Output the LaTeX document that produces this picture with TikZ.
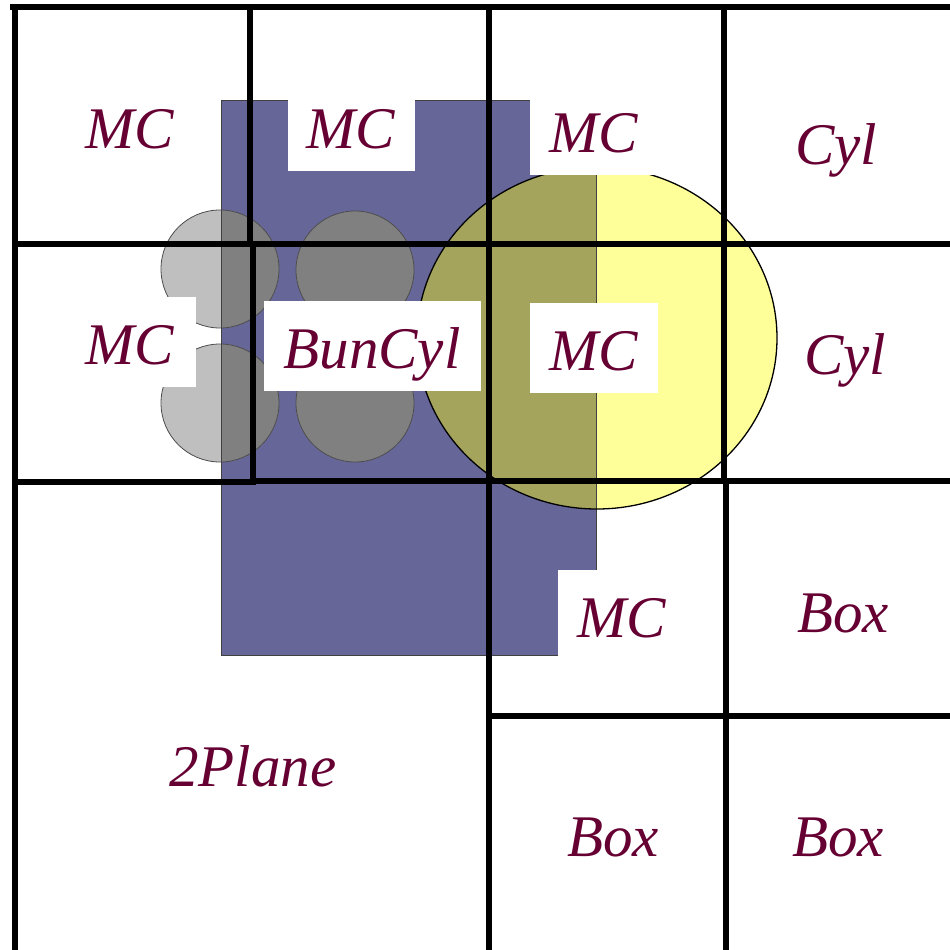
\documentclass[tikz,border=0pt]{standalone}
\usepackage{fontspec}
\setmainfont{Liberation Serif}
\definecolor{maroon}{HTML}{660033}
\definecolor{slate}{HTML}{666699}
\definecolor{pale}{HTML}{FFFF99}
\definecolor{olivy}{HTML}{A4A45C}

\begin{document}
\begin{tikzpicture}[
  x=1pt, y=-1pt,
  lbl/.style={font=\fontsize{59}{59}\selectfont\itshape, text=maroon, anchor=base, inner sep=0pt},
  tag/.style={lbl, fill=white, text height=67pt, text depth=23pt, minimum width=128pt},
  wall/.style={line width=5.6pt, line cap=rect}
]
\useasboundingbox (0,0) rectangle (950,950);

% bundle region and rods
\fill[slate] (221,100) rectangle (596,655);
\foreach \cx/\cy in {220/269, 220/403, 355/270, 355/403}
  \fill[black!25] (\cx,\cy) circle (59);
\begin{scope}
  \clip (221,100) rectangle (596,655);
  \foreach \cx/\cy in {220/269, 220/403, 355/270, 355/403}
    \fill[black!50] (\cx,\cy) circle (59);
\end{scope}
\foreach \cx/\cy in {220/269, 220/403, 355/270, 355/403}
  \draw[black!70, line width=0.8pt] (\cx,\cy) circle (59);

% cylinder
\fill[pale] (597,338) ellipse (180 and 171);
\begin{scope}
  \clip (221,100) rectangle (596,655);
  \fill[olivy] (597,338) ellipse (180 and 171);
\end{scope}
\draw[black!75, line width=0.7pt] (221,100) rectangle (596,655);
\draw[black, line width=1.3pt] (597,338) ellipse (180 and 171);

% cell walls
\draw[wall] (13,7) -- (950,7);
\draw[wall] (15,7) -- (15,950);
\draw[wall] (15,244) -- (950,244);
\draw[wall] (15,482) -- (253,482);
\draw[wall] (253,481) -- (950,481);
\draw[wall] (489,716) -- (950,716);
\draw[wall] (250,7) -- (250,244);
\draw[wall] (253,244) -- (253,482);
\draw[wall] (489,7) -- (489,950);
\draw[wall] (724,7) -- (724,481);
\draw[wall] (726,481) -- (726,950);

% row 1
\node[lbl] (mcA) at (130,148) {MC};
\node[tag, text height=48pt, minimum width=127pt] (mcB) at (351,148) {MC};
\node[tag, text height=55pt] (mcC) at (594,152) {MC};
\node[lbl] (cylA) at (836,164) {Cyl};

% row 2
\node[tag, minimum width=131pt] (mcD) at (130,364) {MC};
\node[tag, minimum width=217pt] (bun) at (372,368) {BunCyl};
\node[tag] (mcE) at (594,370) {MC};
\node[lbl] (cylB) at (845,374) {Cyl};

% row 3
\node[tag, text height=67pt, text depth=29pt] (mcF) at (622,637) {MC};
\node[lbl] (boxA) at (843,632) {Box};

% row 4
\node[lbl] (plane) at (253,786) {2Plane};
\node[lbl] (boxB) at (613,856) {Box};
\node[lbl] (boxC) at (838,856) {Box};

\end{tikzpicture}
\end{document}
